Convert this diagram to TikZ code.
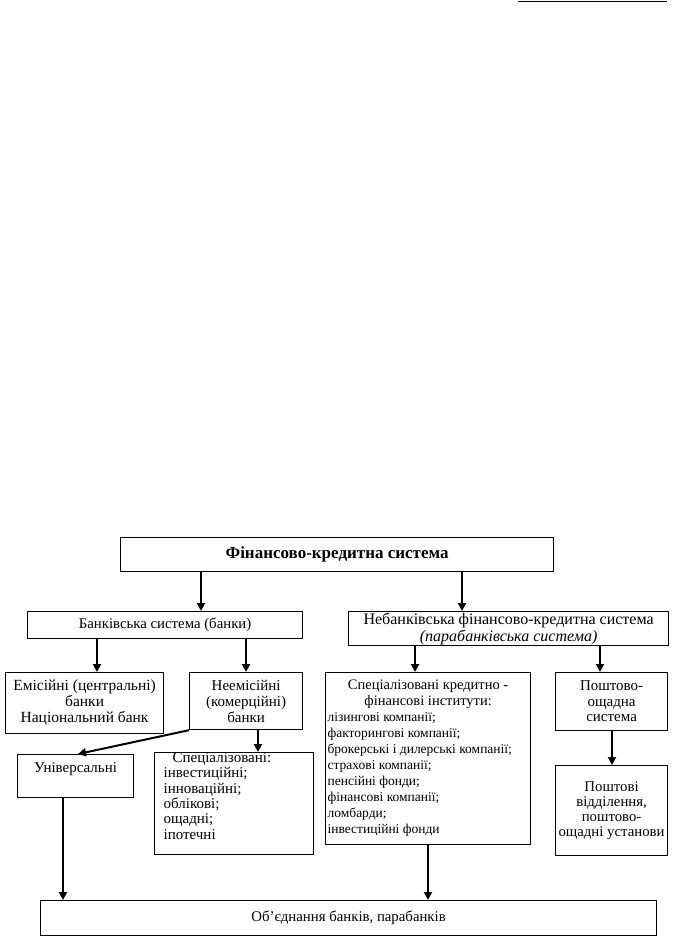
\documentclass[tikz,border=0pt]{standalone}
\usepackage{fontspec}
\setmainfont{Liberation Serif}
\usetikzlibrary{arrows.meta}
\begin{document}
\begin{tikzpicture}[x=1pt,y=-1pt,
  bx/.style={draw, line width=1.2pt, anchor=north west, inner sep=0pt, align=center,
    font=\fontsize{14.5}{16}\selectfont},
  arr/.style={line width=2pt, -{Triangle[length=8pt,width=8pt]}}]
\useasboundingbox (0,0) rectangle (682,950);
\fill[white] (0,0) rectangle (682,950);
\draw[line width=1.5pt] (518,1.5) -- (667,1.5);

\node[bx, minimum width=433pt, minimum height=34pt, font=\bfseries\fontsize{17}{19}\selectfont] (fks) at (120,537) {Фінансово-кредитна система};
\node[bx, minimum width=275pt, minimum height=27pt, font=\fontsize{14.8}{16}\selectfont] (bank) at (27,611) {Банківська система (банки)};
\node[bx, minimum width=320pt, minimum height=34pt, font=\fontsize{16}{17}\selectfont] (nonb) at (348,611) {Небанківська фінансово-кредитна система\\\textit{(парабанківська система)}};
\node[bx, minimum width=158pt, minimum height=61pt, font=\fontsize{15.5}{16}\selectfont] (emis) at (5,672) {Емісійні (центральні)\\банки\\Національний банк};
\node[bx, minimum width=113pt, minimum height=57pt, font=\fontsize{15}{16}\selectfont] (neem) at (189,672) {Неемісійні\\(комерційні)\\банки};
\node[bx] (skf) at (325,672) {\parbox[c][172pt][t]{205pt}{\vspace*{7pt}\fontsize{14.5}{16}\selectfont\centering Спеціалізовані кредитно -\\ фінансові інститути:\par
  \fontsize{13.5}{16}\selectfont\raggedright\hspace*{2pt}лізингові компанії;\\ \hspace*{2pt}факторингові компанії;\\ \hspace*{2pt}брокерські і дилерські компанії;\\ \hspace*{2pt}страхові компанії;\\ \hspace*{2pt}пенсійні фонди;\\ \hspace*{2pt}фінансові компанії;\\ \hspace*{2pt}ломбарди;\\ \hspace*{2pt}інвестиційні фонди\par}};
\node[bx, minimum width=112pt, minimum height=58pt, font=\fontsize{15}{15.5}\selectfont] (posht) at (555,672) {Поштово-\\ощадна\\система};
\node[bx, text height=18pt, text depth=25pt, minimum width=116pt, font=\fontsize{15}{16}\selectfont] (univ) at (17,754) {Універсальні};
\node[bx] (spec) at (154,752) {\parbox[c][102pt][t]{159pt}{\vspace*{0pt}\fontsize{15}{15.3}\selectfont\raggedright\hspace*{18pt}Спеціалізовані:\\ \hspace*{9pt}інвестиційні;\\ \hspace*{9pt}інноваційні;\\ \hspace*{9pt}облікові;\\ \hspace*{9pt}ощадні;\\ \hspace*{9pt}іпотечні\par}};
\node[bx, minimum width=112pt, minimum height=90pt, font=\fontsize{14.8}{15.2}\selectfont] (pvid) at (555,765) {Поштові\\відділення,\\поштово-\\ощадні установи};
\node[bx, minimum width=616pt, minimum height=35pt, font=\fontsize{14.8}{16}\selectfont] (ob) at (40,900) {Об’єднання банків, парабанків};

\coordinate (x1) at (201,0);
\coordinate (x2) at (462,0);
\coordinate (x3) at (97,0);
\coordinate (x4) at (246,0);
\coordinate (x5) at (415,0);
\coordinate (x6) at (600,0);
\coordinate (x7) at (612,0);
\coordinate (x8) at (258,0);
\coordinate (x9) at (78,0);
\coordinate (x10) at (63,0);
\coordinate (x11) at (428,0);

\draw[arr] (fks.south -| x1) -- (bank.north -| x1);
\draw[arr] (fks.south -| x2) -- (nonb.north -| x2);
\draw[arr] (bank.south -| x3) -- (emis.north -| x3);
\draw[arr] (bank.south -| x4) -- (neem.north -| x4);
\draw[arr] (nonb.south -| x5) -- (skf.north -| x5);
\draw[arr] (nonb.south -| x6) -- (posht.north -| x6);
\draw[arr] (posht.south -| x7) -- (pvid.north -| x7);
\draw[arr] (neem.south -| x8) -- (spec.north -| x8);
\draw[arr] (neem.south west) -- (univ.north -| x9);
\draw[arr] (univ.south -| x10) -- (ob.north -| x10);
\draw[arr] (skf.south -| x11) -- (ob.north -| x11);
\end{tikzpicture}
\end{document}
